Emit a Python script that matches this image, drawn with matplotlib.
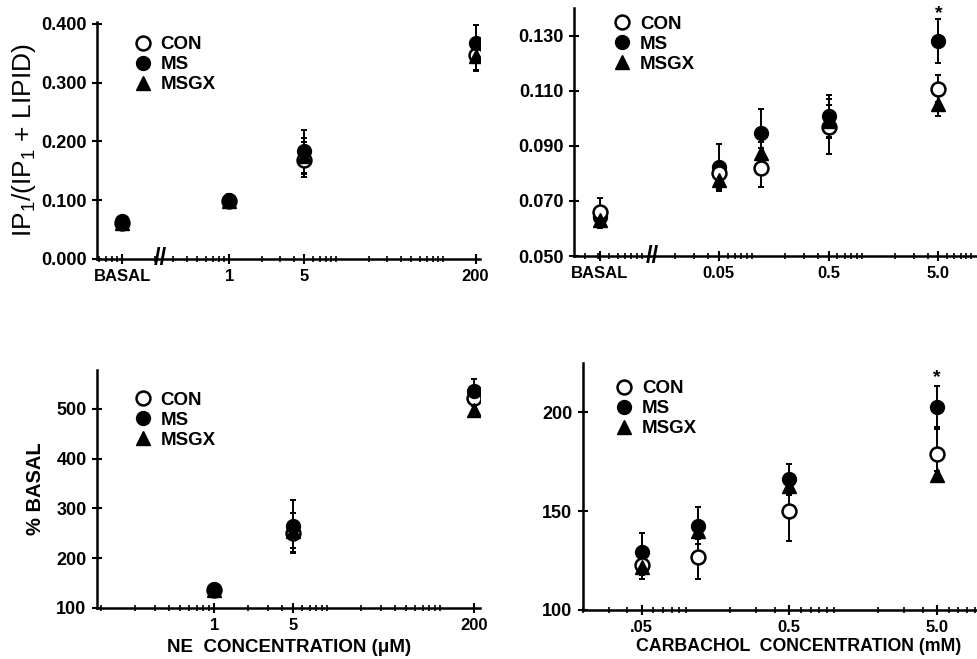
import numpy as np
import matplotlib
matplotlib.use("Agg")
import matplotlib.pyplot as plt
import matplotlib.transforms as mtransforms
from matplotlib.lines import Line2D
from matplotlib.ticker import LogLocator, NullFormatter, FixedLocator

plt.rcParams['font.family'] = ['Liberation Sans', 'DejaVu Sans']
plt.rcParams['font.weight'] = 'bold'
plt.rcParams['mathtext.default'] = 'regular'

# ------------------- Data -------------------
groups = ["CON", "MS", "MSGX"]

# NE (top-left: first value is BASAL)
ne_conc = [1, 5, 200]
ne_ip_con = [0.062, 0.099, 0.169, 0.347]
ne_ip_ms = [0.065, 0.101, 0.183, 0.368]
ne_ip_msgx = [0.062, 0.098, 0.175, 0.345]
ne_ip_con_err = [0.004, 0.008, 0.030, 0.025]
ne_ip_ms_err = [0.004, 0.010, 0.036, 0.030]
ne_ip_msgx_err = [0.004, 0.006, 0.030, 0.025]

# NE % basal (bottom-left)
ne_pct_con = [137, 250, 521]
ne_pct_ms = [139, 265, 536]
ne_pct_msgx = [137, 255, 497]
ne_pct_con_err = [5, 40, 15]
ne_pct_ms_err = [5, 52, 24]
ne_pct_msgx_err = [5, 35, 10]

# Carbachol (top-right: first value is BASAL)
cch_conc = [0.05, 0.12, 0.5, 5.0]
cch_ip_con = [0.066, 0.0803, 0.0821, 0.0970, 0.1108]
cch_ip_ms = [0.064, 0.0825, 0.0948, 0.1009, 0.1280]
cch_ip_msgx = [0.063, 0.0776, 0.0873, 0.0990, 0.1053]
cch_ip_con_err = [0.005, 0.004, 0.007, 0.010, 0.005]
cch_ip_ms_err = [0.003, 0.0082, 0.0086, 0.0076, 0.008]
cch_ip_msgx_err = [0.003, 0.004, 0.004, 0.006, 0.0046]

# Carbachol % basal (bottom-right)
cch_pct_con = [122.8, 126.6, 150.0, 179.0]
cch_pct_ms = [129.1, 142.6, 166.0, 202.9]
cch_pct_msgx = [121.7, 140.0, 162.6, 168.5]
cch_pct_con_err = [5, 11, 15.3, 12.4]
cch_pct_ms_err = [9.8, 9.4, 8, 10.5]
cch_pct_msgx_err = [6, 4, 4, 2]


# ------------------- Helpers -------------------
def draw_series(ax, x, con, ms, msgx, con_err, ms_err, msgx_err, ms_on_top=False):
    for y, e in [(ms, ms_err), (con, con_err), (msgx, msgx_err)]:
        ax.errorbar(x, y, yerr=e, fmt='none', ecolor='black',
                    elinewidth=1.4, capsize=2.5, capthick=1.4, zorder=2)
    ax.plot(x, ms, 'o', ms=10, mfc='black', mec='black',
            zorder=6 if ms_on_top else 3)
    ax.plot(x, con, 'o', ms=10, mfc='white', mec='black', mew=1.8, zorder=4)
    ax.plot(x, msgx, '^', ms=10, mfc='black', mec='black', zorder=5)


def style_axis(ax, xlim, ylim, xticks, xlabels, yticks, ylabels):
    ax.set_xscale('log')
    ax.set_xlim(*xlim)
    ax.set_ylim(*ylim)
    for s in ['top', 'right']:
        ax.spines[s].set_visible(False)
    for s in ['left', 'bottom']:
        ax.spines[s].set_linewidth(1.8)
    ax.xaxis.set_major_locator(FixedLocator(xticks))
    ax.set_xticklabels(xlabels, fontsize=12, fontweight='bold')
    ax.xaxis.set_minor_locator(LogLocator(base=10, subs=np.arange(1, 10), numticks=60))
    ax.xaxis.set_minor_formatter(NullFormatter())
    ax.set_yticks(yticks)
    ax.set_yticklabels(ylabels, fontsize=13, fontweight='bold')
    ax.tick_params(which='major', direction='inout', length=7, width=1.5, pad=4)
    ax.tick_params(which='minor', direction='inout', length=4, width=1.2)


def add_legend(ax, anchor):
    handles = [
        Line2D([], [], ls='none', marker='o', ms=10, mfc='white', mec='black', mew=1.8),
        Line2D([], [], ls='none', marker='o', ms=10, mfc='black', mec='black'),
        Line2D([], [], ls='none', marker='^', ms=10, mfc='black', mec='black'),
    ]
    ax.legend(handles, groups, loc='upper left', bbox_to_anchor=anchor,
              frameon=False, handlelength=0.8, handletextpad=0.55,
              labelspacing=0.15, borderpad=0, borderaxespad=0,
              prop=dict(weight='bold', size=13.5))


def add_break(ax, xpos):
    trans = mtransforms.blended_transform_factory(ax.transData, ax.transAxes)
    ax.text(xpos, 0.0, "//", transform=trans, ha='center', va='center',
            fontsize=17, fontweight='bold', clip_on=False, zorder=6)


# ------------------- Figure -------------------
fig = plt.figure(figsize=(9.78, 6.59), dpi=100)

BASAL_NE = 0.1
BASAL_CCH = 0.0041

# top-left
ax1 = fig.add_axes([0.0992, 0.607, 0.392, 0.3596])
draw_series(ax1, [BASAL_NE] + ne_conc, ne_ip_con, ne_ip_ms, ne_ip_msgx,
            ne_ip_con_err, ne_ip_ms_err, ne_ip_msgx_err, ms_on_top=True)
style_axis(ax1, (0.058, 222), (0.0, 0.403),
           [BASAL_NE] + ne_conc, ["BASAL", "1", "5", "200"],
           [0.0, 0.1, 0.2, 0.3, 0.4],
           ["0.000", "0.100", "0.200", "0.300", "0.400"])
add_break(ax1, 0.226)
ax1.set_ylabel("IP$_1$/(IP$_1$ + LIPID)", fontsize=19, fontweight='normal', labelpad=2)
add_legend(ax1, (0.1, 0.94))

# top-right
ax2 = fig.add_axes([0.587, 0.6115, 0.413, 0.376])
draw_series(ax2, [BASAL_CCH] + cch_conc, cch_ip_con, cch_ip_ms, cch_ip_msgx,
            cch_ip_con_err, cch_ip_ms_err, cch_ip_msgx_err)
style_axis(ax2, (0.0024, 11.5), (0.05, 0.140),
           [BASAL_CCH, 0.05, 0.5, 5.0], ["BASAL", "0.05", "0.5", "5.0"],
           [0.05, 0.07, 0.09, 0.11, 0.13],
           ["0.050", "0.070", "0.090", "0.110", "0.130"])
add_break(ax2, 0.0123)
ax2.text(cch_conc[-1], cch_ip_ms[-1] + cch_ip_ms_err[-1] + 0.0022, "*",
         ha='center', va='center', fontsize=14, fontweight='bold', clip_on=False)
add_legend(ax2, (0.1, 0.97))

# bottom-left
ax3 = fig.add_axes([0.0992, 0.0774, 0.392, 0.361])
draw_series(ax3, ne_conc, ne_pct_con, ne_pct_ms, ne_pct_msgx,
            ne_pct_con_err, ne_pct_ms_err, ne_pct_msgx_err, ms_on_top=True)
style_axis(ax3, (0.092, 226), (100, 578),
           ne_conc, ["1", "5", "200"],
           [100, 200, 300, 400, 500], ["100", "200", "300", "400", "500"])
ax3.set_ylabel("% BASAL", fontsize=14.5, fontweight='bold', labelpad=8)
ax3.set_xlabel("NE  CONCENTRATION (\u03bcM)", fontsize=13.5, fontweight='bold', labelpad=4)
add_legend(ax3, (0.1, 0.91))

# bottom-right
ax4 = fig.add_axes([0.596, 0.0744, 0.404, 0.375])
draw_series(ax4, cch_conc, cch_pct_con, cch_pct_ms, cch_pct_msgx,
            cch_pct_con_err, cch_pct_ms_err, cch_pct_msgx_err)
style_axis(ax4, (0.02, 9.5), (100, 225),
           [0.05, 0.5, 5.0], [".05", "0.5", "5.0"],
           [100, 150, 200], ["100", "150", "200"])
ax4.text(cch_conc[-1], cch_pct_ms[-1] + cch_pct_ms_err[-1] + 4, "*",
         ha='center', va='center', fontsize=14, fontweight='bold')
ax4.set_xlabel("CARBACHOL  CONCENTRATION (mM)", fontsize=12.8, fontweight='bold')
ax4.xaxis.set_label_coords(0.545, -0.115)
add_legend(ax4, (0.085, 0.93))

fig.savefig("out.png", dpi=100)
